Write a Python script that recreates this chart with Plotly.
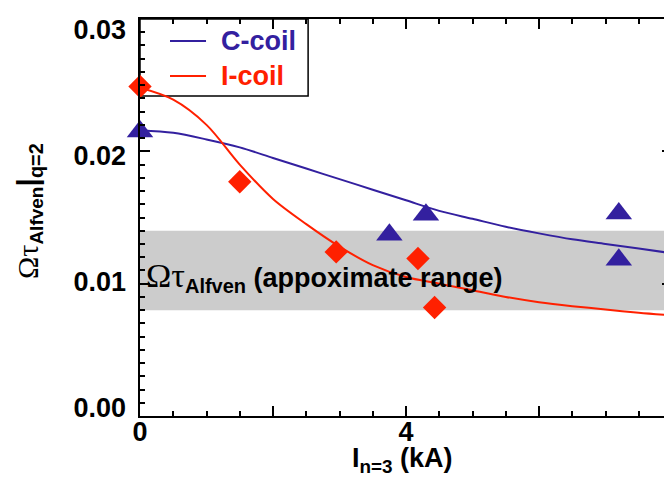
import plotly.graph_objects as go

# ---- data ----
c_coil_x = [0.0, 3.75, 4.30, 7.20, 7.20]
c_coil_y = [0.0215, 0.0137, 0.0152, 0.0153, 0.0118]

i_coil_x = [0.0, 1.50, 2.95, 4.18, 4.43]
i_coil_y = [0.0249, 0.0177, 0.0124, 0.0119, 0.0082]

fit_x = [0, 0.5, 1, 1.5, 2, 2.5, 3, 3.5, 4, 4.5, 5, 5.5, 6, 6.5, 7, 7.5, 8]
c_fit_y = [0.0216, 0.0214, 0.0209, 0.0203, 0.0195, 0.0187, 0.0179, 0.0171,
           0.0163, 0.0155, 0.0149, 0.0143, 0.0138, 0.01335, 0.0130, 0.01265, 0.0123]
i_fit_y = [0.0248, 0.0239, 0.0220, 0.0190, 0.0164, 0.0145, 0.0128, 0.0114,
           0.0105, 0.0100, 0.0095, 0.0090, 0.0086, 0.0083, 0.00805, 0.0078, 0.0076]

band_range = [0.008, 0.014]
x_ticks = [0, 2, 4, 6, 8]
x_ticktext = ["0", "", "4", "", "8"]
y_ticks = [0.0, 0.01, 0.02, 0.03]
y_ticktext = ["0.00", "0.01", "0.02", "0.03"]
# the reference draws its y tick labels on a slightly compressed scale
y_label_range = [-0.00071, 0.0308]

series_names = ["C-coil", "I-coil"]

BLUE = "#33209f"
RED = "#ff2000"
SANS = "Liberation Sans, Arial, sans-serif"
SERIF = "Liberation Serif, Times New Roman, serif"

fig = go.Figure()

fig.add_trace(go.Scatter(
    x=fit_x, y=c_fit_y, mode="lines", name=series_names[0], showlegend=False,
    line=dict(color=BLUE, width=2, shape="spline", smoothing=0.9)))
fig.add_trace(go.Scatter(
    x=fit_x, y=i_fit_y, mode="lines", name=series_names[1], showlegend=False,
    line=dict(color=RED, width=2, shape="spline", smoothing=0.9)))
fig.add_trace(go.Scatter(
    x=c_coil_x, y=c_coil_y, mode="markers", showlegend=False, name=series_names[0],
    cliponaxis=False,
    marker=dict(symbol="triangle-up", size=23, color=BLUE, line=dict(width=0))))
fig.add_trace(go.Scatter(
    x=i_coil_x, y=i_coil_y, mode="markers", showlegend=False, name=series_names[1],
    cliponaxis=False,
    marker=dict(symbol="diamond", size=18, color=RED, line=dict(width=0))))
# empty trace so the label-only overlay axis is drawn
fig.add_trace(go.Scatter(x=[], y=[], yaxis="y2", showlegend=False, hoverinfo="skip"))

# grey band
fig.add_shape(type="rect", xref="x", yref="y", x0=fit_x[0], x1=fit_x[-1],
              y0=band_range[0], y1=band_range[1],
              fillcolor="#cccccc", line=dict(width=0), layer="below")

# legend box (drawn under the data, as in the reference)
fig.add_shape(type="rect", xref="paper", yref="paper", x0=0, x1=0.316, y0=0.806, y1=1,
              fillcolor="white", line=dict(color="black", width=1.5), layer="below")
for name, col, ly in [(series_names[0], BLUE, 0.9446), (series_names[1], RED, 0.8564)]:
    fig.add_shape(type="line", xref="paper", yref="paper", x0=0.0564, x1=0.1241,
                  y0=ly, y1=ly, line=dict(color=col, width=2), layer="below")
    fig.add_annotation(x=0.149, y=ly, xref="paper", yref="paper", xanchor="left",
                       yanchor="middle", showarrow=False, text=name,
                       font=dict(family=SANS, size=27, color=col, weight="bold"))

# band label
fig.add_annotation(
    x=0.06, y=0.0105, xref="x", yref="y", xanchor="left", yanchor="middle",
    showarrow=False,
    text='<span style="font-family:%s;font-weight:normal;font-size:34px">Ωτ</span>'
         '<sub><span style="font-size:20px">Alfven</span></sub> (appoximate range)' % SERIF,
    font=dict(family=SANS, size=27, color="black", weight="bold"))

# axis titles
fig.add_annotation(
    x=0.4925, y=-0.063, xref="paper", yref="paper", xanchor="center", yanchor="top",
    showarrow=False, text="I<sub>n=3</sub> (kA)",
    font=dict(family=SANS, size=27, color="black", weight="bold"))
fig.add_annotation(
    x=-0.209, y=0.516, xref="paper", yref="paper", xanchor="center", yanchor="middle",
    showarrow=False, textangle=-90,
    text='<span style="font-family:%s;font-weight:normal;font-size:30px">Ωτ</span>'
         '<sub><span style="font-size:19px">Alfven</span></sub>'
         '<span style="font-size:30px">|</span>'
         '<sub><span style="font-size:20px">q=2</span></sub>' % SERIF,
    font=dict(family=SANS, size=27, color="black", weight="bold"))

fig.update_layout(
    width=672, height=484,
    margin=dict(l=132, r=8, t=11, b=76, autoexpand=False),
    paper_bgcolor="white", plot_bgcolor="white",
    font=dict(family=SANS, size=27, color="black", weight="bold"),
    showlegend=False,
    xaxis=dict(range=[0, 8], tickvals=x_ticks, ticktext=x_ticktext,
               ticks="inside", ticklen=10, tickwidth=1.5, tickcolor="black",
               showline=True, linecolor="black", linewidth=2, mirror="ticks",
               showgrid=False, zeroline=False, automargin=False,
               ticklabeloverflow="allow", ticklabelstandoff=-9,
               minor=dict(dtick=0.5, ticks="inside", ticklen=5, tickwidth=1.5,
                          tickcolor="black", showgrid=False),
               tickfont=dict(size=27)),
    yaxis=dict(range=[0, 0.03], tickvals=y_ticks, showticklabels=False,
               ticks="inside", ticklen=10, tickwidth=1.5, tickcolor="black",
               showline=True, linecolor="black", linewidth=2, mirror="ticks",
               showgrid=False, zeroline=False, automargin=False,
               minor=dict(dtick=0.001, ticks="inside", ticklen=5, tickwidth=1.5,
                          tickcolor="black", showgrid=False)),
    yaxis2=dict(range=y_label_range, overlaying="y", side="left", anchor="x",
                tickvals=y_ticks, ticktext=y_ticktext, ticks="",
                showline=False, showgrid=False, zeroline=False, automargin=False,
                ticklabeloverflow="allow", ticklabelstandoff=13,
                tickfont=dict(size=27)),
)

fig.write_html("out.html")
